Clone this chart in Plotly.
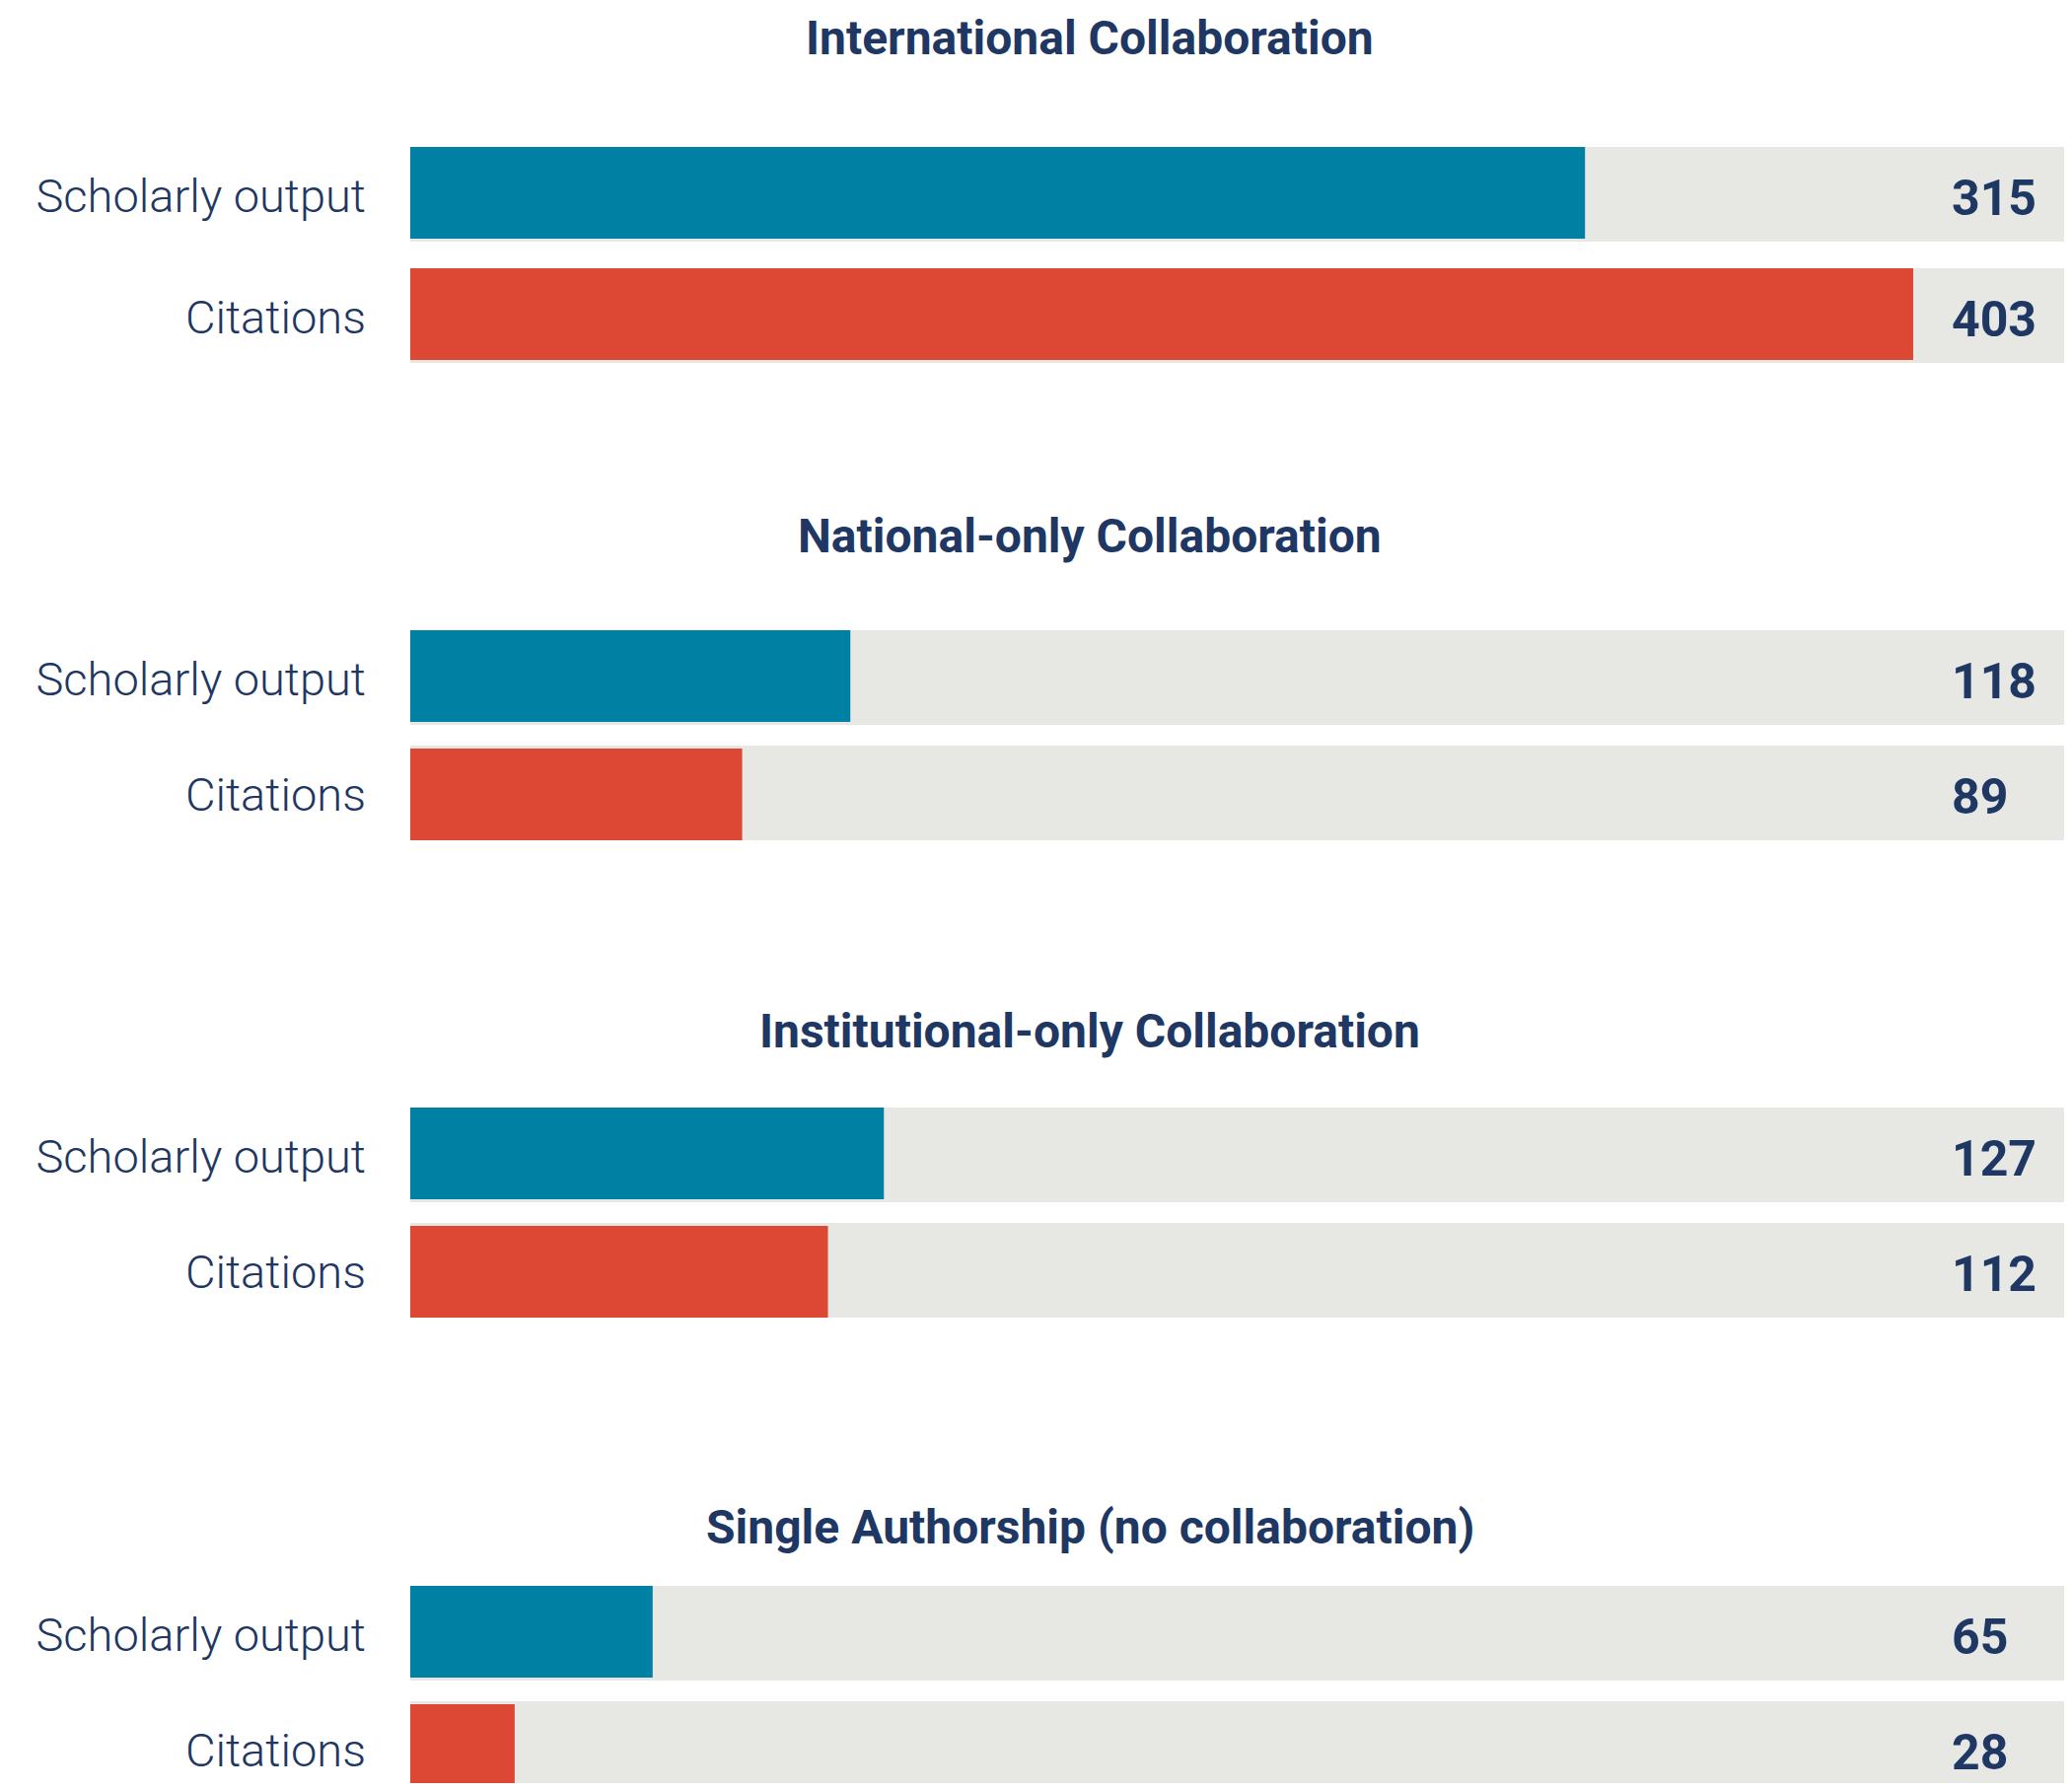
import plotly.graph_objects as go

# ---------------- data ----------------
group_titles = [
    "International Collaboration",
    "National-only Collaboration",
    "Institutional-only Collaboration",
    "Single Authorship (no collaboration)",
]
metrics = ["Scholarly output", "Citations"]
scholarly_output = [315, 118, 127, 65]
citations = [403, 89, 112, 28]
track_max = 450  # background track (extends past the visible edge)

# ---------------- styling / layout ----------------
PAGE_W, PAGE_H = 2101, 1816
OFF = 8  # browser body margin
W, H = PAGE_W - 2 * OFF, PAGE_H - 2 * OFF
NAVY = "#1F3763"
BLUE = "#0081A3"
RED = "#DD4834"
GRAY = "#E7E7E3"

plot_left = 416 - OFF
px_per_unit = 3.7816
x_max = (W - plot_left) / px_per_unit

row_centers = [(197, 320), (687, 804), (1171, 1288), (1656, 1773)]
title_centers = [38, 543, 1045, 1548]
title_x = 1105 - OFF
value_x = 1977 - OFF
gray_h, bar_h = 96, 93

fig = go.Figure()
layout = dict(
    width=W, height=H,
    margin=dict(l=0, r=0, t=0, b=0),
    paper_bgcolor="white", plot_bgcolor="white",
    barmode="overlay", showlegend=False,
    annotations=[],
)

for k in range(4):
    c1, c2 = row_centers[k][0] - OFF, row_centers[k][1] - OFF
    s = c2 - c1
    top = c1 - s / 2
    bottom = min(c2 + s / 2, H)
    dom = [1 - bottom / H, 1 - top / H]
    yr = [-0.5 + (bottom - top) / s, -0.5]
    wg = gray_h / s
    wc = bar_h / s
    sfx = "" if k == 0 else str(k + 1)
    xa, ya = "x" + sfx, "y" + sfx

    fig.add_trace(go.Bar(
        y=metrics, x=[track_max, track_max], orientation="h",
        width=wg, offset=-wg / 2, marker=dict(color=GRAY, line=dict(width=0)),
        xaxis=xa, yaxis=ya, hoverinfo="skip",
    ))
    red_off = -wg / 2 if k == 0 else wg / 2 - wc
    fig.add_trace(go.Bar(
        y=metrics, x=[scholarly_output[k], citations[k]], orientation="h",
        width=wc, offset=[-wg / 2, red_off],
        marker=dict(color=[BLUE, RED], line=dict(width=0)),
        xaxis=xa, yaxis=ya,
    ))

    layout["xaxis" + sfx] = dict(
        domain=[plot_left / W, 1], range=[0, x_max], visible=False,
        showgrid=False, zeroline=False, fixedrange=True,
        anchor=ya,
    )
    layout["yaxis" + sfx] = dict(
        domain=dom, range=yr, type="category", showgrid=False, zeroline=False,
        showline=False, ticks="", ticklabelstandoff=44, ticklabelshift=-2,
        fixedrange=True,
        tickfont=dict(family="Roboto", size=47, color=NAVY, weight=300),
        anchor=xa,
    )

    layout["annotations"].append(dict(
        text="<b>%s</b>" % group_titles[k], x=title_x / W,
        y=1 - (title_centers[k] - OFF) / H,
        xref="paper", yref="paper", xanchor="center", yanchor="middle",
        showarrow=False, font=dict(family="Roboto", size=48, color=NAVY),
    ))
    for m, v in zip(metrics, [scholarly_output[k], citations[k]]):
        layout["annotations"].append(dict(
            text="<b>%d</b>" % v, x=value_x / W, y=m, xref="paper", yref=ya,
            xanchor="left", yanchor="middle", showarrow=False, yshift=-4,
            font=dict(family="Roboto", size=50, color=NAVY),
        ))

fig.update_layout(**layout)
fig.write_html("out.html")
